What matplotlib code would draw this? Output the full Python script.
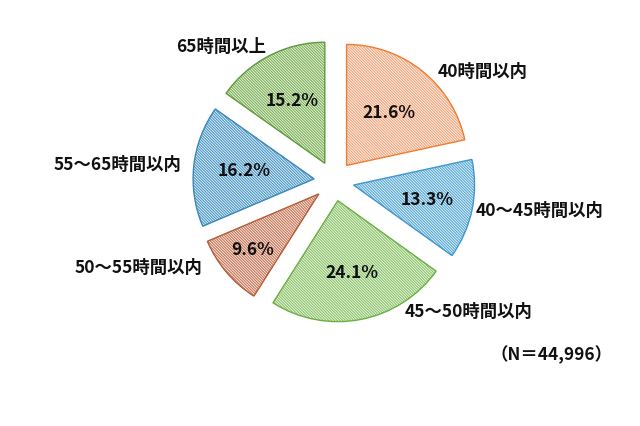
import matplotlib
matplotlib.use("Agg")
import matplotlib.pyplot as plt
import numpy as np

plt.rcParams['font.family'] = ['Noto Sans CJK JP', 'DejaVu Sans']
plt.rcParams['hatch.linewidth'] = 0.9

categories = ["40時間以内", "40～45時間以内", "45～50時間以内", "50～55時間以内", "55～65時間以内", "65時間以上"]
values = [21.6, 13.3, 24.1, 9.6, 16.2, 15.2]
note = "（N＝44,996）"

hatch_colors = ["#F2A77E", "#5AAAD6", "#8CC46A", "#C9795A", "#4E9AC8", "#7FB25A"]
edge_colors = ["#ED7D31", "#3E97CF", "#6BAE45", "#B55A36", "#3A87B8", "#5E9A3A"]
pct_dist = [0.56, 0.62, 0.61, 0.72, 0.58, 0.58]
label_pos = [(483, 72), (540, 211), (469, 312), (139, 268), (118, 165), (221, 47)]

W, H = 640, 426
fig = plt.figure(figsize=(6.4, 4.26), dpi=100)
ax = fig.add_axes([0, 0, 1, 1])

center = (334, H - 181)
radius = 121
explode = [20] * len(values)
hatch_pat = ["\\" * 12] * len(values)

wedges, _ = ax.pie(values, explode=explode, startangle=90, counterclock=False,
                   center=center, radius=radius, colors=["white"] * len(values),
                   hatch=hatch_pat, wedgeprops=dict(linewidth=0))
for w, c in zip(wedges, hatch_colors):
    w.set_edgecolor(c)

wedges2, _ = ax.pie(values, explode=explode, startangle=90, counterclock=False,
                    center=center, radius=radius,
                    wedgeprops=dict(facecolor="none", linewidth=1.0))
for w, c in zip(wedges2, edge_colors):
    w.set_edgecolor(c)

for w, v, pd in zip(wedges, values, pct_dist):
    th = np.deg2rad((w.theta1 + w.theta2) / 2)
    cx, cy = w.center
    ax.text(cx + pd * radius * np.cos(th), cy + pd * radius * np.sin(th), f"{v:.1f}%",
            ha="center", va="center", fontsize=12.5, fontweight="bold", color="#111111")

for lab, (x, y) in zip(categories, label_pos):
    ax.text(x, H - y, lab, ha="center", va="center", fontsize=12.5, fontweight="bold", color="#111111")

ax.text(552, H - 355, note, ha="center", va="center", fontsize=12.5, fontweight="bold", color="#111111")

ax.set_xlim(0, W)
ax.set_ylim(0, H)
ax.set_aspect("equal")
ax.axis("off")
fig.savefig("out.png", dpi=100)
